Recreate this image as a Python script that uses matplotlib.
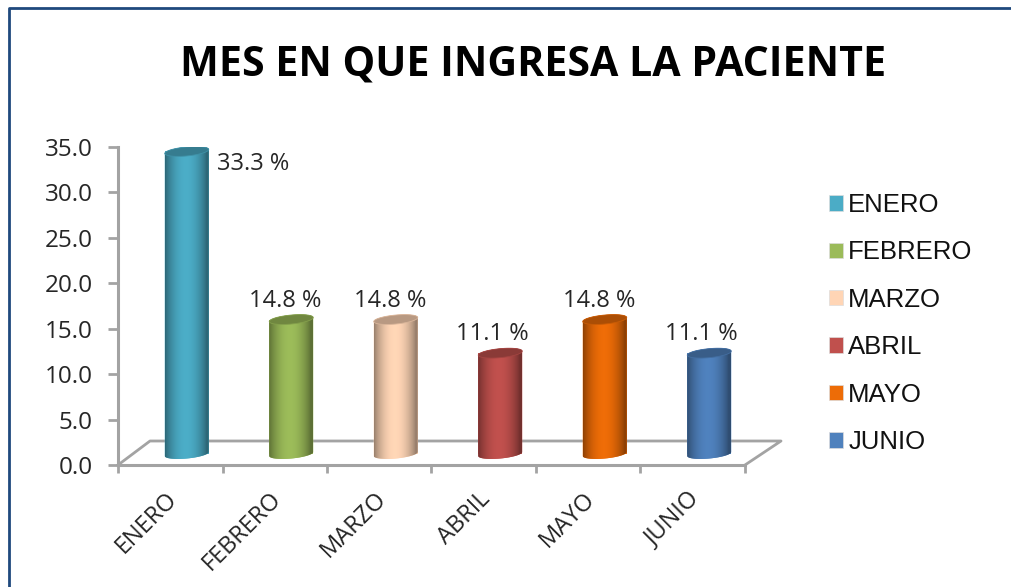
import numpy as np
import matplotlib
matplotlib.use("Agg")
import matplotlib.pyplot as plt
from matplotlib.colors import to_rgb
from matplotlib.lines import Line2D
from matplotlib.patches import Patch, PathPatch
from matplotlib.path import Path
from matplotlib.transforms import ScaledTranslation

TITLE = "MES EN QUE INGRESA LA PACIENTE"
months = ["ENERO", "FEBRERO", "MARZO", "ABRIL", "MAYO", "JUNIO"]
values = [33.3, 14.8, 14.8, 11.1, 14.8, 11.1]
value_labels = ["33.3 %", "14.8 %", "14.8 %", "11.1 %", "14.8 %", "11.1 %"]
y_ticks = [0, 5, 10, 15, 20, 25, 30, 35]
colors = ["#4BACC6", "#9BBB59", "#FFD5B5", "#C0504D", "#ED6C07", "#4F81BD"]
label_shift_px = [(66, -13), (-6, 19), (-6, 19), (-8, 19), (-6, 19), (-8, 19)]

W, H = 1012, 587
UI = "Open Sans"
TXT = "#262626"
GREY = "#A3A3A3"
fig = plt.figure(figsize=(W / 100, H / 100), dpi=100, facecolor="white")
AL, AR, AT, AB = 118, 745, 147, 465
ax = fig.add_axes([AL / W, 1 - AB / H, (AR - AL) / W, (AB - AT) / H])
ax.set_xlim(-0.5, 5.5)
ax.set_ylim(0, 35)
ax.patch.set_alpha(0)
for s in ("top", "right"):
    ax.spines[s].set_visible(False)
for s in ("left", "bottom"):
    ax.spines[s].set_color(GREY)
    ax.spines[s].set_linewidth(2.2)
ax.set_yticks(y_ticks, [f"{v:.1f}" for v in y_ticks], fontsize=17.5, family=UI, color=TXT)
ax.set_xticks(np.arange(-0.5, 6), minor=True)
ax.set_xticks(np.arange(6), months, rotation=45, ha="right", rotation_mode="anchor",
              fontsize=17, family=UI, color=TXT)
ax.tick_params(axis="y", color=GREY, width=2, length=7, pad=11)
ax.tick_params(axis="x", which="minor", color=GREY, width=2, length=6)
ax.tick_params(axis="x", which="major", length=0, pad=16)
for lab in ax.get_xticklabels():
    lab.set_transform(lab.get_transform() + ScaledTranslation(-5 / 100, 0, fig.dpi_scale_trans))


def px(x, y):
    return x / W, 1 - y / H


# 3-D floor outline, behind the cylinders
floor = [(118, 465), (150, 441), (781, 441), (745, 465)]
ax.plot([px(*p)[0] for p in floor], [px(*p)[1] for p in floor], transform=fig.transFigure,
        color=GREY, lw=2.0, zorder=1, clip_on=False)

# Cylinders
offset = ax.transData + ScaledTranslation(16.5 / 100, 11 / 100, fig.dpi_scale_trans)
bar_w = 44 / ((AR - AL) / 6)
u = 35 / (AB - AT)  # data units per pixel
b, tilt = 4.5 * u, 2.0 * u


def ring(cx, cy, t):
    a = bar_w / 2
    return np.c_[cx + a * np.cos(t), cy + b * np.sin(t) + tilt * np.cos(t)]


grad_x = np.linspace(0, 1, 64)
shade = 0.60 + 0.41 * np.sin(np.pi * np.clip(grad_x * 1.05, 0, 1)) ** 0.8
for i, (v, c) in enumerate(zip(values, colors)):
    rgb = np.array(to_rgb(c))
    ax.bar(i, v, bar_w, color=c, transform=offset, zorder=3)
    lower = ring(i, 0, np.linspace(0, -np.pi, 40))
    upper = ring(i, v, np.linspace(np.pi, 0, 40))
    body = np.r_[lower, upper, lower[:1]]
    patch = PathPatch(Path(body), fc=c, ec="none", transform=offset, zorder=3)
    ax.add_patch(patch)
    img = np.clip(shade[None, :, None] * rgb[None, None, :], 0, 1)
    im = ax.imshow(img, extent=(i - bar_w / 2, i + bar_w / 2, -b - tilt, v + b), aspect="auto",
                   transform=offset, zorder=3.1, interpolation="bilinear")
    im.set_clip_path(patch)
    top = ring(i, v, np.linspace(0, 2 * np.pi, 80))
    ax.add_patch(PathPatch(Path(top), fc=rgb * 0.72, ec=rgb * 0.85, lw=0.6,
                           transform=offset, zorder=3.2))
    dx, dy = label_shift_px[i]
    ax.annotate(value_labels[i], (i, v), xycoords=offset, xytext=(dx * 0.72, dy * 0.72),
                textcoords="offset points", ha="center", va="center",
                fontsize=17, family=UI, color=TXT, zorder=5,
                annotation_clip=False)
ax.set_xlim(-0.5, 5.5)
ax.set_ylim(0, 35)

fig.text(*px(533, 65), TITLE, ha="center", va="center", fontsize=29.6,
         fontweight="bold", family=UI, color="black")

handles = [Patch(fc=c, ec="#DDDDDD", lw=0.5) for c in colors]
fig.legend(handles, months, loc="center left", bbox_to_anchor=px(829, 323.5), frameon=False,
           prop={"family": "Liberation Sans", "size": 18.5}, labelcolor="#111111",
           handlelength=0.55, handleheight=0.55, handletextpad=0.2,
           labelspacing=0.91, borderpad=0, borderaxespad=0)

# Outer frame (top and left edges)
fx, fy = px(9.5, 7.5)
fig.add_artist(Line2D([fx, fx, 1], [0, fy, fy], color="#1F497D", lw=2.0, zorder=10))

fig.savefig("out.png", dpi=100)
